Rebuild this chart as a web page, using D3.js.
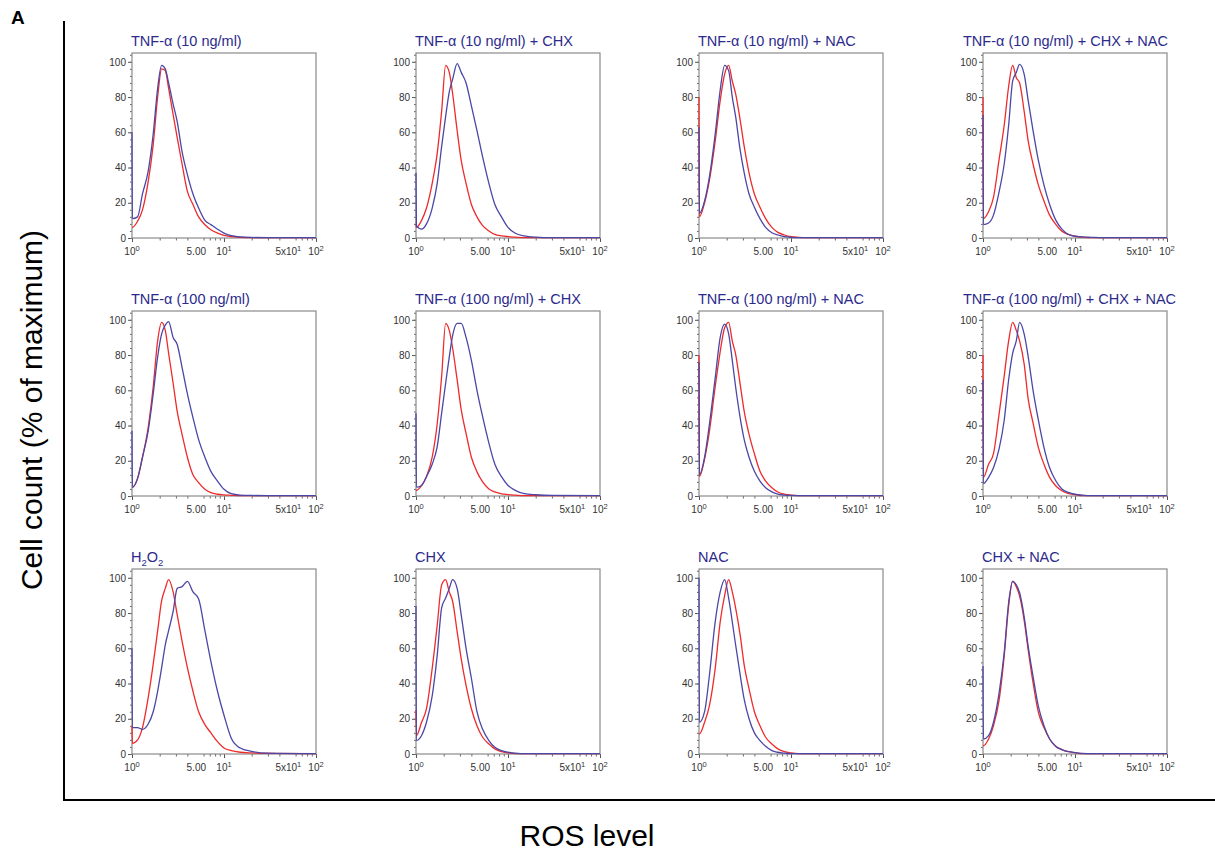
<!DOCTYPE html>
<html>
<head>
<meta charset="utf-8">
<script src="https://d3js.org/d3.v7.min.js"></script>
<style>
  body { margin: 0; background: #fff; }
  text { font-family: "Liberation Sans", Arial, sans-serif; }
</style>
</head>
<body>
<script>
  // fluorescence bins shared by every histogram (log x)
  const rosGrid = [1, 1.01, 1.15, 1.3, 1.5, 1.7, 1.9, 2.1, 2.3, 2.5, 2.8, 3.1, 3.5, 4, 4.6, 5.3, 6.2, 7.2, 8.5, 10, 12, 15, 20, 30, 100];

  const panelTitles = [
    "TNF-α (10 ng/ml)", "TNF-α (10 ng/ml) + CHX", "TNF-α (10 ng/ml) + NAC", "TNF-α (10 ng/ml) + CHX + NAC",
    "TNF-α (100 ng/ml)", "TNF-α (100 ng/ml) + CHX", "TNF-α (100 ng/ml) + NAC", "TNF-α (100 ng/ml) + CHX + NAC",
    "H2O2", "CHX", "NAC", "CHX + NAC"
  ];

  // red histograms (% of max), one row per panel
  const redCounts = [
    [6, 6, 9.5, 16, 32, 53, 80, 96, 95, 85, 70, 57, 42, 26.5, 19, 12, 7.5, 4.7, 2.8, 1.5, 0.8, 0.4, 0.2, 0.2, 0.2],
    [8, 6, 10, 17, 31, 48, 72, 98, 94, 82, 61, 44, 31, 19, 12, 7, 4, 2, 1.2, 0.8, 0.5, 0.2, 0.2, 0.2, 0.2],
    [80, 12, 20, 33, 55, 78, 93, 98, 89, 82, 67, 52, 37, 25, 17.5, 11, 6, 3.2, 1.7, 0.8, 0.4, 0.2, 0.2, 0.2, 0.2],
    [80, 11, 15, 23, 45, 64, 86, 98, 91, 88, 72, 55, 42, 30, 21, 13, 7.6, 3.8, 2, 1, 0.5, 0.2, 0.2, 0.2, 0.2],
    [5, 5, 10, 22, 39, 62, 88, 98.5, 94, 81, 64, 48, 35, 22, 12, 7.6, 3.8, 1.9, 1, 0.6, 0.4, 0.2, 0.2, 0.2, 0.2],
    [3.2, 3.2, 6, 11, 22, 41, 68, 98, 94, 84, 66, 49, 35.5, 22, 13.7, 8, 4, 2.3, 1.2, 0.8, 0.5, 0.2, 0.2, 0.2, 0.2],
    [80, 11, 21, 37, 62, 82, 95.5, 98.5, 88, 80.5, 63.5, 48, 35, 24, 14, 8.5, 4.7, 2.3, 1, 0.5, 0.2, 0.2, 0.2, 0.2, 0.2],
    [80, 10.6, 18, 24, 47, 68, 88, 98.5, 94, 88, 75, 55, 41.5, 27.5, 18, 10.6, 5.7, 3, 1.3, 0.8, 0.2, 0.2, 0.2, 0.2, 0.2],
    [16, 6, 8, 15, 32, 51, 70, 87, 94, 99, 92, 79, 64, 49, 35.6, 24, 16.7, 12, 7, 3.4, 1.9, 1, 0.6, 0.3, 0.2],
    [25, 10.5, 18, 25.7, 48.6, 73, 96, 99, 92, 86.7, 69.5, 54, 39, 25.7, 16, 9.5, 5.7, 2.9, 1.3, 0.6, 0.2, 0.2, 0.2, 0.2, 0.2],
    [11.4, 11.4, 18, 27.6, 48.6, 75, 90, 99, 92, 83, 67.6, 50.5, 37, 24, 16, 9.5, 5.7, 2.9, 1.3, 0.6, 0.2, 0.2, 0.2, 0.2, 0.2],
    [4.7, 4.7, 8.5, 16, 31, 55.7, 84, 98, 95, 89.6, 76, 59, 40.5, 23.6, 15, 8.5, 4.3, 2.5, 1.3, 0.8, 0.2, 0.2, 0.2, 0.2, 0.2]
  ];

  // blue histograms (% of max)
  const blueCounts = [
    [60, 11, 12, 25, 38, 59, 85, 98, 96, 88, 76, 66, 49, 36, 25, 17, 10, 7.6, 5, 2.8, 1.3, 0.6, 0.3, 0.2, 0.2],
    [37, 7, 5, 8, 17, 31, 52, 69, 83, 90, 99, 94, 88, 75, 61, 46, 31, 19, 12, 6, 2.7, 1.2, 0.5, 0.2, 0.2],
    [63, 14, 21, 35, 59, 84, 98, 95, 80, 69, 50, 37, 25, 17.5, 11, 6, 3, 1.7, 0.8, 0.4, 0.2, 0.2, 0.2, 0.2, 0.2],
    [70, 7.6, 8.5, 13, 26.5, 42, 64, 89, 94, 98.5, 93, 78, 61, 44, 30, 19, 10, 5, 2, 1, 0.6, 0.4, 0.2, 0.2, 0.2],
    [37, 5, 10, 22, 37, 58, 79, 92, 97, 99, 90, 86, 73, 58, 44.5, 32, 22, 14, 8.5, 3.8, 1.3, 0.5, 0.3, 0.2, 0.2],
    [47, 5, 6, 11, 18, 28, 47, 64, 79, 91, 98, 98, 90, 77, 60, 45, 30, 18, 11, 6, 3.2, 1.3, 0.7, 0.3, 0.2],
    [76, 12, 22, 41, 67, 90, 97.5, 92, 77, 62, 44.5, 32, 22, 14, 8.5, 4.7, 2.3, 1, 0.5, 0.3, 0.2, 0.2, 0.2, 0.2, 0.2],
    [66, 7, 10.6, 16, 27, 43, 66, 81, 88, 98.5, 92, 79, 60, 43, 27.5, 16, 8.5, 4, 2, 1, 0.5, 0.2, 0.2, 0.2, 0.2],
    [60, 15, 15, 14, 17, 24, 35.6, 49, 62, 70, 81, 94, 95, 98, 92, 88, 70, 52.6, 35.6, 22, 9, 3.4, 1.5, 0.5, 0.2],
    [84, 7.6, 10.5, 18, 33, 56, 83, 88.5, 94, 99, 94, 79, 60, 43, 24, 14, 7.6, 3.8, 1.9, 1, 0.5, 0.2, 0.2, 0.2, 0.2],
    [100, 18, 24, 45, 75, 92, 99, 88.5, 75, 62, 45, 31, 20, 12, 7.6, 4.4, 1.9, 1, 0.5, 0.2, 0.2, 0.2, 0.2, 0.2, 0.2],
    [50, 8.5, 10.4, 18, 35, 57.5, 86, 98, 96, 91.5, 78, 61, 44, 27, 16, 8.5, 4.3, 2.5, 1.3, 0.8, 0.4, 0.2, 0.2, 0.2, 0.2]
  ];

  const yTickValues = [0, 20, 40, 60, 80, 100];
  const xTickValues = [1, 5, 10, 50, 100];
  const xTickLabels = [["10", "0"], ["5.00", ""], ["10", "1"], ["5x10", "1"], ["10", "2"]];

  // make svg
  const svg = d3.select("body")
    .append("svg")
    .attr("width", 1215)
    .attr("height", 853);

  svg.append("rect")
    .attr("width", "100%")
    .attr("height", "100%")
    .attr("fill", "white");

  const colLeft = [132, 416, 699, 983];
  const rowTop = [53, 311, 569];
  const boxW = 184, boxH = 185;

  const x = d3.scaleLog().domain([1, 100]).range([0, boxW]);
  const y = d3.scaleLinear().domain([0, 105]).range([boxH, 0]);

  const histLine = d3.line()
    .x((d, i) => x(rosGrid[i]))
    .y(d => y(d))
    .curve(d3.curveMonotoneX);

  const minorX = [2, 3, 4, 6, 7, 8, 9, 20, 30, 40, 60, 70, 80, 90];
  const minorY = d3.range(0, 105, 4);

  panelTitles.forEach((title, p) => {
    const left = colLeft[p % 4], top = rowTop[Math.floor(p / 4)];
    const g = svg.append("g").attr("transform", `translate(${left},${top})`);

    // y axis, major + minor ticks
    const ya = g.append("g")
      .call(d3.axisLeft(y).tickValues(yTickValues).tickSize(4).tickPadding(2));
    ya.select(".domain").remove();
    ya.selectAll("text").attr("font-size", 10).attr("fill", "#333")
      .attr("font-family", "Liberation Sans, Arial, sans-serif");
    ya.selectAll("line").attr("stroke", "#555");
    const ym = g.append("g")
      .call(d3.axisLeft(y).tickValues(minorY).tickSize(2).tickFormat(""));
    ym.select(".domain").remove();
    ym.selectAll("line").attr("stroke", "#666");

    // x axis
    const xa = g.append("g")
      .attr("transform", `translate(0,${boxH})`)
      .call(d3.axisBottom(x).tickValues([1, 10, 100]).tickSize(4).tickFormat(""));
    xa.select(".domain").remove();
    xa.selectAll("line").attr("stroke", "#555");
    const xm = g.append("g")
      .attr("transform", `translate(0,${boxH})`)
      .call(d3.axisBottom(x).tickValues(minorX).tickSize(2.5).tickFormat(""));
    xm.select(".domain").remove();
    xm.selectAll("line").attr("stroke", "#666");

    xTickValues.forEach((v, i) => {
      const t = g.append("text")
        .attr("x", x(v))
        .attr("y", boxH + 17)
        .attr("text-anchor", "middle")
        .attr("font-size", 10)
        .attr("fill", "#333")
        .text(xTickLabels[i][0]);
      if (xTickLabels[i][1]) {
        t.append("tspan")
          .attr("dy", -4)
          .attr("font-size", 7.5)
          .text(xTickLabels[i][1]);
      }
    });

    // frame
    g.append("rect")
      .attr("width", boxW)
      .attr("height", boxH)
      .attr("fill", "none")
      .attr("stroke", "#8a8a8a")
      .attr("stroke-width", 1.2);

    // histograms
    g.append("path")
      .attr("d", histLine(redCounts[p]))
      .attr("fill", "none")
      .attr("stroke", "#ee2b2b")
      .attr("stroke-width", 1.3);
    g.append("path")
      .attr("d", histLine(blueCounts[p]))
      .attr("fill", "none")
      .attr("stroke", "#4b47a6")
      .attr("stroke-width", 1.3);

    // title
    const tx = title.length > 25 ? -20 : -1;
    const tt = g.append("text")
      .attr("x", tx)
      .attr("y", -7)
      .attr("font-size", 14.5)
      .attr("fill", "#2c2a8c");
    if (title === "H2O2") {
      tt.append("tspan").text("H");
      tt.append("tspan").attr("font-size", 9.5).attr("dy", 4).text("2");
      tt.append("tspan").attr("dy", -4).text("O");
      tt.append("tspan").attr("font-size", 9.5).attr("dy", 4).text("2");
    } else {
      tt.text(title);
    }
  });

  // outer axes
  svg.append("line")
    .attr("x1", 64).attr("x2", 64)
    .attr("y1", 21).attr("y2", 801)
    .attr("stroke", "black")
    .attr("stroke-width", 2);
  svg.append("line")
    .attr("x1", 63).attr("x2", 1215)
    .attr("y1", 800).attr("y2", 800)
    .attr("stroke", "black")
    .attr("stroke-width", 2);

  svg.append("text")
    .attr("x", 11).attr("y", 24)
    .attr("font-size", 19)
    .attr("font-weight", 700)
    .text("A");

  svg.append("text")
    .attr("transform", "translate(42,410) rotate(-90)")
    .attr("text-anchor", "middle")
    .attr("font-size", 30)
    .text("Cell count (% of maximum)");

  svg.append("text")
    .attr("x", 587).attr("y", 846)
    .attr("text-anchor", "middle")
    .attr("font-size", 30)
    .text("ROS level");
</script>
</body>
</html>
